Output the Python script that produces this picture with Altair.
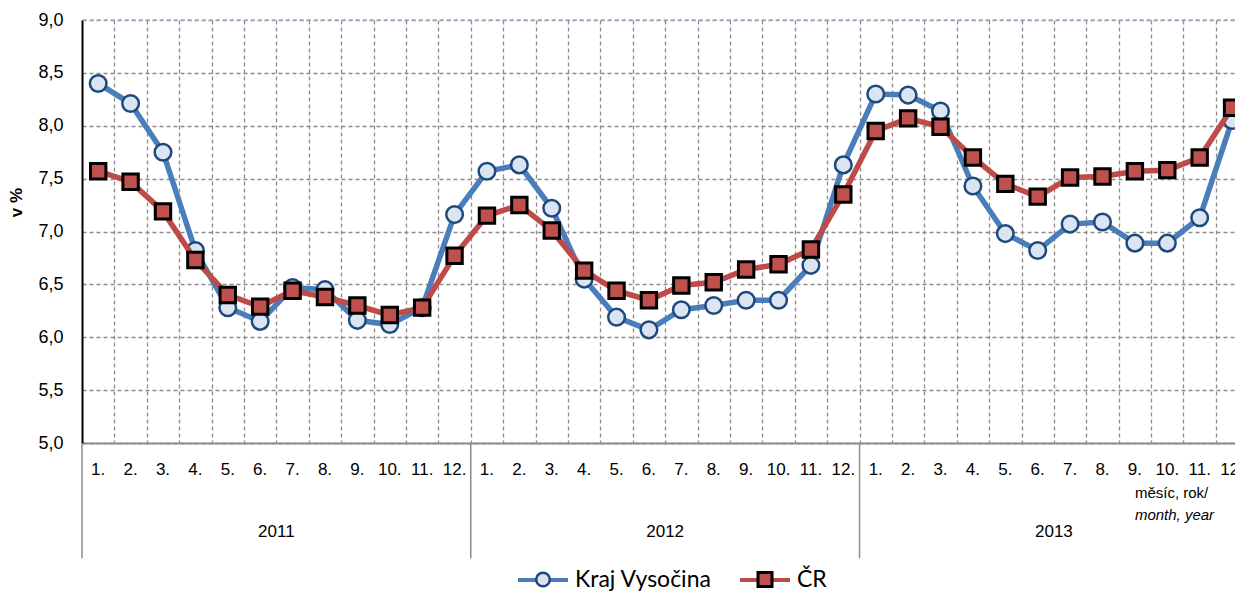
import altair as alt
import pandas as pd

months = ["1.", "2.", "3.", "4.", "5.", "6.", "7.", "8.", "9.", "10.", "11.", "12."]
years = ["2011", "2012", "2013"]
series_names = ["Kraj Vysočina", "ČR"]
kraj = [8.40, 8.21, 7.75, 6.82, 6.28, 6.15, 6.47, 6.45, 6.16, 6.12, 6.28, 7.16,
        7.57, 7.63, 7.22, 6.55, 6.19, 6.07, 6.26, 6.30, 6.35, 6.35, 6.68, 7.63,
        8.30, 8.29, 8.14, 7.43, 6.98, 6.82, 7.07, 7.09, 6.89, 6.89, 7.13, 8.05]
cr = [7.57, 7.47, 7.19, 6.73, 6.40, 6.29, 6.44, 6.38, 6.30, 6.21, 6.28, 6.77,
      7.15, 7.25, 7.01, 6.63, 6.44, 6.35, 6.49, 6.52, 6.64, 6.69, 6.83, 7.35,
      7.95, 8.07, 7.99, 7.70, 7.45, 7.33, 7.51, 7.52, 7.57, 7.58, 7.70, 8.17]
axis_note = ["měsíc, rok/", "month, year"]
y_ticks = [5.0, 5.5, 6.0, 6.5, 7.0, 7.5, 8.0, 8.5, 9.0]

n = len(years) * len(months)
rows = []
for name, vals in zip(series_names, [kraj, cr]):
    for i in range(n):
        rows.append({"idx": i + 0.5, "series": name, "value": vals[i]})
df = pd.DataFrame(rows)
month_df = pd.DataFrame({"idx": [i + 0.5 for i in range(n)], "label": months * len(years)})
year_df = pd.DataFrame({"idx": [12 * k + 6 for k in range(len(years))], "label": years})
sep_df = pd.DataFrame({"idx": [12 * k for k in range(len(years))]})

BLUE = "#4a7ebb"
RED = "#be4b48"
GRID = "#8c8c8c"
FONT = "Liberation Sans"
CIRCLE = "M-0.27,0A0.27,0.27 0 1,1 0.27,0A0.27,0.27 0 1,1 -0.27,0Z"
SQUARE = "M-0.28,-0.28H0.28V0.28H-0.28Z"

xscale = alt.Scale(domain=[0, 35.59], nice=False, zero=False)
yscale = alt.Scale(domain=[5, 9], nice=False, zero=False)

x_axis = alt.Axis(values=list(range(1, n)), grid=True, gridColor=GRID, gridDash=[4, 3],
                  gridWidth=1.3, labels=False, ticks=False, domain=True, domainColor=GRID,
                  domainWidth=2, title=None)
y_axis = alt.Axis(values=y_ticks, labelExpr="replace(format(datum.value, '.1f'), '.', ',')",
                  grid=True, gridColor=GRID, gridDash=[4, 3], gridWidth=1.3, ticks=False,
                  domain=True, domainColor="black", domainWidth=2, labelFont=FONT,
                  labelFontSize=18, labelColor="black", labelPadding=19, title="v %",
                  titleFont=FONT, titleFontSize=17, titleFontWeight="bold", titleColor="black",
                  titleX=-57, titleY=182, titleAngle=270, titleBaseline="bottom", titleAlign="center")

LEG_Y = 533
LEG_X = 434
leg_common = dict(orient="none", legendY=LEG_Y, direction="horizontal", title=None,
                  symbolSize=2500, labelFont="Lato", padding=0)
legA = alt.Legend(legendX=LEG_X, symbolType="stroke", symbolStrokeWidth=4, labelColor="black",
                  labelFontSize=23, labelOffset=5, columnPadding=20, **leg_common)
legB1 = alt.Legend(legendX=LEG_X + 0.5, symbolStrokeWidth=2.5, labelOpacity=0, labelFontSize=1,
                   **leg_common)
legB2 = alt.Legend(legendX=656.5, symbolStrokeWidth=3, labelOpacity=0, labelFontSize=1,
                   **leg_common)

color_enc = alt.Color("series:N", scale=alt.Scale(domain=series_names, range=[BLUE, RED]), legend=legA)

X = alt.X("idx:Q", scale=xscale, axis=x_axis)
Y = alt.Y("value:Q", scale=yscale, axis=y_axis)

def yd(v):
    return alt.YDatum(v, scale=yscale, axis=y_axis)

base = alt.Chart(df)

blue_line = base.transform_filter(alt.datum.series == series_names[0]).mark_line(strokeWidth=5.5).encode(
    x=X, y=Y, color=color_enc)
blue_pts = base.transform_filter(alt.datum.series == series_names[0]).mark_point(
    filled=True, size=3780, opacity=1, strokeWidth=2.5, fill="#dbe5f1", stroke="#1f497d").encode(
    x=X, y=Y,
    shape=alt.Shape("series:N", scale=alt.Scale(domain=[series_names[0]], range=[CIRCLE]), legend=legB1))
red_line = base.transform_filter(alt.datum.series == series_names[1]).mark_line(strokeWidth=5.5).encode(
    x=X, y=Y, color=color_enc)
red_pts = base.transform_filter(alt.datum.series == series_names[1]).mark_point(
    filled=True, size=3025, opacity=1, strokeWidth=3, fill="#c0504d", stroke="#000000").encode(
    x=X, y=Y,
    shape=alt.Shape("series:N", scale=alt.Scale(domain=[series_names[1]], range=[SQUARE]), legend=legB2))

top_rule = alt.Chart(df).transform_filter("datum.idx == 0.5 && datum.series == 'ČR'").mark_rule(
    color="#95b3d7", strokeDash=[4, 3], strokeWidth=1.5).encode(y=yd(9))

seps = alt.Chart(sep_df).mark_rule(color=GRID, strokeWidth=1.5).encode(
    x=X, y=yd(5), y2=alt.Y2Datum(3.91))

month_text = alt.Chart(month_df).mark_text(font=FONT, fontSize=17, color="black", baseline="middle").encode(
    x=X, y=yd(4.745), text="label:N")
year_text = alt.Chart(year_df).mark_text(font=FONT, fontSize=17, color="black", baseline="middle").encode(
    x=X, y=yd(4.158), text="label:N")
note1 = alt.Chart(year_df).transform_filter("datum.label == '2013'").mark_text(
    font=FONT, fontSize=15, color="black", baseline="middle", align="left", text=axis_note[0]).encode(
    x=alt.XDatum(32.5, scale=xscale, axis=x_axis), y=yd(4.527))
note2 = alt.Chart(year_df).transform_filter("datum.label == '2013'").mark_text(
    font=FONT, fontSize=15, color="black", baseline="middle", align="left", fontStyle="italic",
    text=axis_note[1]).encode(
    x=alt.XDatum(32.5, scale=xscale, axis=x_axis), y=yd(4.319))

chart = alt.layer(
    blue_line, top_rule, seps, month_text, year_text, note1, note2, blue_pts, red_line, red_pts
).resolve_scale(shape="independent").properties(
    width=1153, height=423,
    padding={"left": 74, "top": 12, "right": 0, "bottom": 149},
    autosize=alt.AutoSizeParams(type="none"),
    background="white",
).configure_view(stroke=None)

chart.save("out.html", embed_options={"renderer": "svg", "actions": False})
